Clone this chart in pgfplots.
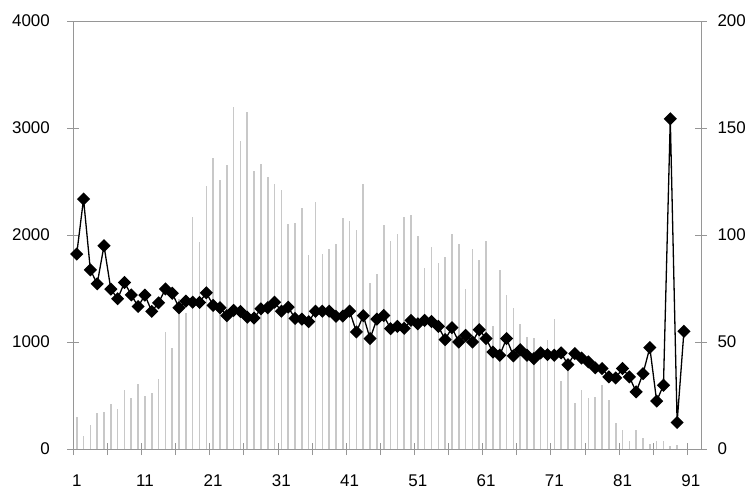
\documentclass[border=0pt]{standalone}
\usepackage{fontspec}
\setmainfont{Liberation Sans}
\usepackage{pgfplots}
\pgfplotsset{compat=1.18}
\definecolor{axisgray}{RGB}{150,150,150}
\definecolor{bargray}{RGB}{200,200,200}

\begin{document}
\begin{tikzpicture}
\useasboundingbox (-73.3bp,-41bp) rectangle (671.7bp,449bp);
\pgfplotsset{
  base/.style={
    at={(0,0)}, anchor=south west,
    scale only axis, width=627.7bp, height=428bp,
    xmin=0.5, xmax=92.5,
    axis line style={axisgray, line width=0.8bp},
    tick align=center,
    major tick length=12bp, minor tick length=12bp,
    every tick/.style={axisgray, line width=0.8bp},
    tick label style={font=\fontsize{17}{20}\selectfont},
    scaled ticks=false,
    /pgf/number format/assume math mode=true,
    /pgf/number format/1000 sep={},
  }
}
% bars, left axis
\begin{axis}[base,
  ymin=0, ymax=4000,
  ytick={0,1000,...,4000}, ytick pos=left,
  xtick={1,11,...,91}, xtick pos=bottom,
  minor xtick={0.5,5.5,...,90.5},
  every major x tick/.append style={draw=none},
  yticklabel style={xshift=-14bp},
  xticklabel style={yshift=-16bp},
]
\addplot[ycomb, bargray, line width=1.6bp, mark=none] coordinates {
(1,295) (2,121) (3,224) (4,339) (5,342) (6,419) (7,370) (8,556) (9,475) (10,606)
(11,491) (12,519) (13,655) (14,1090) (15,944) (16,1404) (17,1270) (18,2171) (19,1932) (20,2460)
(21,2724) (22,2516) (23,2652) (24,3196) (25,2879) (26,3149) (27,2596) (28,2665) (29,2543) (30,2475)
(31,2425) (32,2099) (33,2112) (34,2248) (35,1814) (36,2307) (37,1826) (38,1870) (39,1919) (40,2161)
(41,2130) (42,2050) (43,2475) (44,1556) (45,1634) (46,2096) (47,1947) (48,2009) (49,2171) (50,2186)
(51,1994) (52,1696) (53,1885) (54,1736) (55,1798) (56,2009) (57,1919) (58,1497) (59,1873) (60,1767)
(61,1947) (62,1152) (63,1674) (64,1435) (65,1317) (66,1171) (67,1043) (68,1034) (69,944) (70,1019)
(71,1211) (72,640) (73,742) (74,432) (75,556) (76,478) (77,488) (78,599) (79,457) (80,239)
(81,177) (82,75) (83,177) (84,99) (85,47) (86,71) (87,71) (88,30) (89,37)
};
\end{axis}
% line, right axis
\begin{axis}[base,
  ymin=0, ymax=200,
  ytick={0,50,...,200},
  axis y line*=right, hide x axis,
  yticklabel style={xshift=7bp},
]
\addplot[black, line width=1.3bp, mark=square*, mark size=4bp, mark options={rotate=45}] coordinates {
(1,91.1) (2,116.8) (3,83.7) (4,77.2) (5,95.0) (6,74.7) (7,70.2) (8,77.8) (9,72.0) (10,66.6)
(11,71.9) (12,64.3) (13,68.3) (14,74.8) (15,72.8) (16,66.0) (17,69.1) (18,68.6) (19,68.5) (20,73.0)
(21,67.1) (22,66.0) (23,62.3) (24,64.8) (25,64.3) (26,61.6) (27,61.2) (28,65.5) (29,66.0) (30,68.6)
(31,64.4) (32,66.3) (33,61.0) (34,60.7) (35,59.5) (36,64.4) (37,64.4) (38,64.4) (39,62.0) (40,62.1)
(41,64.4) (42,54.7) (43,62.3) (44,51.6) (45,60.7) (46,62.4) (47,56.2) (48,57.3) (49,56.4) (50,60.1)
(51,58.5) (52,60.1) (53,59.6) (54,57.3) (55,51.1) (56,56.7) (57,50.0) (58,53.1) (59,50.0) (60,55.7)
(61,51.6) (62,45.3) (63,43.8) (64,51.6) (65,43.5) (66,46.4) (67,43.8) (68,42.2) (69,44.9) (70,44.1)
(71,43.8) (72,44.9) (73,39.4) (74,44.6) (75,42.5) (76,40.7) (77,37.9) (78,37.6) (79,33.7) (80,33.2)
(81,37.6) (82,33.7) (83,26.7) (84,35.2) (85,47.4) (86,22.4) (87,29.8) (88,154.3) (89,12.4) (90,55.0)
};
\end{axis}
\end{tikzpicture}
\end{document}
